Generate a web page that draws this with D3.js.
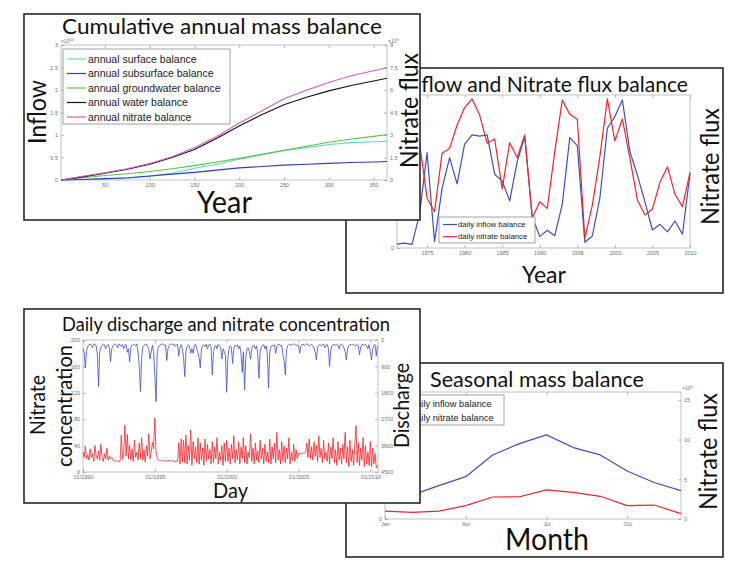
<!DOCTYPE html>
<html>
<head>
<meta charset="utf-8">
<script src="https://cdn.jsdelivr.net/npm/d3@7"></script>
<style>
body { margin: 0; background: #fff; }
.big { font-family: Lato, "Open Sans", sans-serif; fill: #111; }
.ax text { font-family: "Liberation Sans", Arial, sans-serif; font-size: 5.5px; fill: #707070; }
.ax line { stroke: #8c8c8c; stroke-width: 0.6; }
.leg { font-family: "Liberation Sans", Arial, sans-serif; fill: #222; }
</style>
</head>
<body>
<svg id="fig" width="731" height="565"></svg>
<script>
// ---- panel A: cumulative annual mass balance (x = day of year) ----
const a_days = [1, 25, 50, 75, 100, 125, 150, 175, 200, 225, 250, 275, 300, 325, 350, 365];
const a_surface     = [0, 0.01, 0.02, 0.04, 0.08, 0.15, 0.26, 0.35, 0.46, 0.56, 0.65, 0.72, 0.79, 0.83, 0.85, 0.86];
const a_subsurface  = [0, 0.01, 0.03, 0.05, 0.09, 0.13, 0.17, 0.22, 0.27, 0.30, 0.33, 0.35, 0.37, 0.39, 0.40, 0.41];
const a_groundwater = [0, 0.05, 0.10, 0.14, 0.19, 0.25, 0.32, 0.40, 0.48, 0.57, 0.66, 0.75, 0.84, 0.91, 0.97, 1.01];
const a_water       = [0, 0.07, 0.15, 0.24, 0.35, 0.50, 0.68, 0.93, 1.20, 1.45, 1.67, 1.84, 1.98, 2.10, 2.20, 2.26];
const a_nitrate     = [0, 0.25, 0.48, 0.75, 1.10, 1.55, 2.15, 2.90, 3.80, 4.60, 5.42, 5.98, 6.50, 6.95, 7.28, 7.48]; // right axis
const a_names = ["annual surface balance", "annual subsurface balance", "annual groundwater balance", "annual water balance", "annual nitrate balance"];
const a_colors = ["#5fd2e6", "#2d3fbf", "#5ec240", "#111111", "#d35ccb"];
const a_x_ticks = [50, 100, 150, 200, 250, 300, 350];
const a_left_ticks = [0, 0.5, 1, 1.5, 2, 2.5, 3];
const a_right_ticks = [0, 1.5, 3, 4.5, 6, 7.5, 9];

// ---- panel B: yearly inflow and nitrate flux ----
const b_years = d3.range(1971, 2011);
const b_inflow = [0.13, 0.16, 0.12, 1.13, 3.18, 0.21, 1.99, 3.01, 2.14, 3.46,
                  3.77, 3.73, 3.77, 2.46, 2.23, 1.57, 2.88, 3.71, 1.04, 0.38,
                  0.59, 0.41, 1.46, 3.68, 3.41, 0.19, 0.40, 1.66, 3.99, 4.38,
                  4.93, 3.21, 2.43, 1.54, 0.60, 0.79, 0.54, 0.90, 0.46, 2.49];
const b_nitrate = [2.0, 2.3, 2.8, 3.5, 1.66, 1.21, 3.16, 3.32, 4.10, 4.68,
                   4.97, 4.43, 3.49, 3.63, 1.97, 3.51, 3.01, 3.77, 0.99, 1.54,
                   1.32, 3.21, 4.93, 4.46, 4.29, 0.32, 1.43, 3.04, 4.97, 3.57,
                   4.30, 2.99, 1.60, 1.10, 1.30, 2.19, 2.71, 1.79, 1.38, 2.52];
const b_x_ticks = [1975, 1980, 1985, 1990, 1995, 2000, 2005, 2010];

// ---- panel C: discharge and nitrate concentration, one value per month from 01/1990 ----
const c_start = new Date(1990, 0, 1);
const c_end = new Date(2010, 6, 15);
const c_nitrate = [
  30,22,38,20,26,18,35,22,28,16,40,24,
  20,32,18,42,22,16,28,20,36,18,24,20,
  22,18,17,17,16,17,16,16,56,20,30,71,
  24,57,20,40,18,35,16,48,22,30,18,44,
  20,52,18,34,15,40,24,58,20,30,45,35,
  82,30,22,18,17,18,17,16,18,17,16,18,
  17,16,18,17,16,15,17,16,44,12,50,15,
  48,14,56,12,40,18,64,10,46,20,38,14,
  52,12,44,18,36,10,50,16,42,20,34,12,
  46,14,38,20,52,12,30,18,40,10,44,16,
  48,16,36,12,42,20,55,14,34,18,46,12,
  38,20,52,14,40,12,30,22,58,16,36,12,
  44,18,32,14,48,20,36,12,42,16,30,14,
  50,12,38,20,44,14,60,18,34,12,46,16,
  40,14,36,20,52,12,30,18,42,16,34,20,
  28,28,27,28,29,28,30,44,22,50,20,38,
  18,46,24,40,16,55,22,36,14,48,20,30,
  16,44,12,38,20,52,14,34,10,46,18,36,
  12,42,20,60,14,38,8,48,16,34,10,40,
  70,14,44,10,36,18,52,8,40,12,30,10,
  46,8,36,12,28,6,10];
const c_discharge = [
  300,420,950,380,220,160,140,180,260,150,130,200,
  500,1590,420,250,180,140,160,300,200,150,260,740,
  300,200,150,130,180,260,140,160,220,150,300,180,
  150,420,300,740,260,180,140,160,200,130,420,900,
  1760,600,260,180,150,140,220,300,650,420,180,400,
  1200,2100,500,250,180,160,140,130,200,160,700,300,
  180,150,140,160,130,220,170,150,550,260,160,300,
  600,1250,400,220,160,200,450,300,450,180,140,300,
  420,600,950,300,200,160,220,150,300,180,140,240,
  1190,400,260,180,300,150,200,260,650,300,400,500,
  1785,600,300,200,260,800,300,180,220,160,300,200,
  500,1100,400,1700,600,300,260,400,650,280,200,180,
  300,200,500,1300,400,250,180,160,300,200,500,1640,
  400,250,180,200,160,450,220,160,140,200,180,500,
  700,1190,350,200,160,140,180,160,130,150,200,160,
  180,450,200,160,140,200,150,130,160,220,180,150,
  200,300,400,680,250,180,160,200,150,140,260,180,
  150,300,910,350,200,160,140,200,150,180,300,160,
  140,180,260,400,680,300,200,150,180,140,160,200,
  180,150,200,500,250,160,140,180,150,200,300,160,
  400,680,300,180,150,550,200];
const c_left_ticks = [0, 40, 80, 120, 160, 200];
const c_right_ticks = [0, 900, 1800, 2700, 3600, 4500];
const c_x_ticks = [1990, 1995, 2000, 2005, 2010];

// ---- panel D: seasonal mass balance ----
const d_months = [1, 2, 3, 4, 5, 6, 7, 8, 9, 10, 11, 12];
const d_inflow = [2.2, 3.0, 4.2, 5.33, 8.07, 9.5, 10.6, 9.0, 8.07, 6.05, 4.6, 3.57];
const d_nitrate = [1.0, 0.84, 1.0, 1.68, 2.77, 2.8, 3.66, 3.36, 2.86, 1.68, 1.76, 0.67];
const d_x_ticks = [1, 4, 7, 10];
const d_x_labels = {1: "Jan", 4: "Apr", 7: "Jul", 10: "Oct"};
const d_y_ticks = [0, 5, 10, 15];

const BLUE = "#3d4fbf";
const RED = "#f0262b";

const svg = d3.select("#fig");

function panel_box(x0, y0, x1, y1) {
  svg.append("rect").attr("x", x0).attr("y", y0).attr("width", x1 - x0).attr("height", y1 - y0)
    .attr("fill", "#fff").attr("stroke", "#262626").attr("stroke-width", 1.6);
}

// matlab style box with inward ticks on every side
function frame_axes(x_scale, y_left, y_right, o) {
  const [x0, x1] = x_scale.range();
  const [yb, yt] = y_left.range();
  svg.append("rect").attr("x", x0).attr("y", yt).attr("width", x1 - x0).attr("height", yb - yt)
    .attr("fill", "none").attr("stroke", "#b4b4b4").attr("stroke-width", 0.8);
  svg.append("g").attr("class", "ax").attr("transform", `translate(0,${yb})`)
    .call(d3.axisBottom(x_scale).tickValues(o.xt).tickFormat(o.xf).tickSizeInner(-3).tickSizeOuter(0).tickPadding(3));
  svg.append("g").attr("class", "ax").attr("transform", `translate(0,${yt})`)
    .call(d3.axisTop(x_scale).tickValues(o.xt).tickFormat("").tickSizeInner(-3).tickSizeOuter(0));
  svg.append("g").attr("class", "ax").attr("transform", `translate(${x0},0)`)
    .call(d3.axisLeft(y_left).tickValues(o.lt).tickFormat(o.lf).tickSizeInner(-3).tickSizeOuter(0).tickPadding(3));
  svg.append("g").attr("class", "ax").attr("transform", `translate(${x1},0)`)
    .call(d3.axisRight(y_right).tickValues(o.rt).tickFormat(o.rf).tickSizeInner(-3).tickSizeOuter(0).tickPadding(3));
  svg.selectAll(".ax .domain").remove();
}

function big_text(txt, x, y, size, len, rotate) {
  const t = svg.append("text").attr("class", "big").attr("font-size", size)
    .attr("textLength", len).attr("lengthAdjust", "spacingAndGlyphs").text(txt);
  if (rotate) t.attr("transform", `translate(${x},${y}) rotate(-90)`);
  else t.attr("x", x).attr("y", y);
}

function exponent(x, y, p) {
  const t = svg.append("text").attr("x", x).attr("y", y).attr("font-family", "Liberation Sans, Arial")
    .attr("font-size", 5).attr("fill", "#707070").text("\u00d710");
  t.append("tspan").attr("dy", -2).attr("font-size", 4).text(p);
}

function draw_line(xs, ys, x_scale, y_scale, color, width) {
  const line = d3.line().x((d, i) => x_scale(xs[i])).y(d => y_scale(d));
  svg.append("path").datum(ys).attr("d", line).attr("fill", "none")
    .attr("stroke", color).attr("stroke-width", width).attr("stroke-linejoin", "round");
}

function legend(x0, y0, x1, y1, rows, size, line_x, text_x) {
  svg.append("rect").attr("x", x0).attr("y", y0).attr("width", x1 - x0).attr("height", y1 - y0)
    .attr("fill", "#fff").attr("stroke", "#8a8a8a").attr("stroke-width", 0.8);
  rows.forEach(r => {
    svg.append("line").attr("x1", line_x[0]).attr("x2", line_x[1]).attr("y1", r.y).attr("y2", r.y)
      .attr("stroke", r.color).attr("stroke-width", 1.2);
    svg.append("text").attr("class", "leg").attr("x", text_x).attr("y", r.y).attr("dy", "0.35em")
      .attr("font-size", size).text(r.name);
  });
}

// ================= B (behind A) =================
panel_box(346, 68, 723, 293);
const bx = d3.scaleLinear().domain([1971, 2010]).range([397, 690]);
const by = d3.scaleLinear().domain([0, 5.1]).range([248, 95]);
frame_axes(bx, by, by, {xt: b_x_ticks, xf: d3.format("d"), lt: [0, 1, 2, 3, 4, 5], lf: d3.format("d"), rt: [], rf: ""});
draw_line(b_years, b_inflow, bx, by, BLUE, 1.2);
draw_line(b_years, b_nitrate, bx, by, RED, 1.2);
legend(439, 217, 535, 243, [{name: "daily inflow balance", color: BLUE, y: 224.5},
                            {name: "daily nitrate balance", color: RED, y: 236.7}], 7.8, [443, 457], 458);
big_text("Inflow and Nitrate flux balance", 404, 91.7, 21, 284, false);
big_text("Year", 522, 283, 24, 44, false);
big_text("Nitrate flux", 719, 225, 25, 117, true);

// ================= A =================
panel_box(24, 14, 420, 220);
const ax = d3.scaleLinear().domain([1, 365]).range([61, 387]);
const ay = d3.scaleLinear().domain([0, 3]).range([180, 45]);
const ay2 = d3.scaleLinear().domain([0, 9]).range([180, 45]);
frame_axes(ax, ay, ay2, {xt: a_x_ticks, xf: d3.format("d"), lt: a_left_ticks, lf: d => d, rt: a_right_ticks, rf: d => d});
exponent(61, 42.5, "10");
exponent(388, 42.5, "9");
[a_surface, a_subsurface, a_groundwater, a_water].forEach((s, i) => draw_line(a_days, s, ax, ay, a_colors[i], 1.1));
draw_line(a_days, a_nitrate, ax, ay2, a_colors[4], 1.1);
legend(63, 49, 230, 124, a_names.map((n, i) => ({name: n, color: a_colors[i], y: 59 + i * 14.5})), 10.5, [67, 86], 88);
big_text("Cumulative annual mass balance", 62, 34.3, 21, 320, false);
big_text("Year", 197, 213, 31, 55, false);
big_text("Inflow", 45.5, 144, 25, 64, true);
big_text("Nitrate flux", 418, 168, 25, 115, true);

// ================= D (behind C) =================
panel_box(346, 363, 723, 557);
const dx = d3.scaleLinear().domain([1, 12]).range([385, 681]);
const dy = d3.scaleLinear().domain([0, 16]).range([519, 392]);
frame_axes(dx, dy, dy, {xt: d_x_ticks, xf: d => d_x_labels[d], lt: d_y_ticks, lf: d => d, rt: d_y_ticks, rf: d => d});
exponent(682, 390, "6");
draw_line(d_months, d_inflow, dx, dy, BLUE, 1.2);
draw_line(d_months, d_nitrate, dx, dy, RED, 1.2);
legend(388, 395, 504, 425, [{name: "daily inflow balance", color: BLUE, y: 404},
                            {name: "daily nitrate balance", color: RED, y: 418}], 9.3, [392, 408], 411);
big_text("Seasonal mass balance", 430, 386.7, 21, 214, false);
big_text("Month", 505, 550, 30, 84, false);
big_text("Nitrate flux", 717, 510, 25, 117, true);

// ================= C =================
panel_box(24, 309, 420, 503);
const c_dates = c_nitrate.map((d, i) => new Date(1990, i, 1));
const cx = d3.scaleTime().domain([c_start, c_end]).range([83, 378]);
const cy = d3.scaleLinear().domain([0, 200]).range([472, 340]);
const cy2 = d3.scaleLinear().domain([0, 4500]).range([340, 472]);
const fmt_month = d3.timeFormat("%m/%Y");
frame_axes(cx, cy, cy2, {xt: c_x_ticks.map(y => new Date(y, 0, 1)), xf: fmt_month,
  lt: c_left_ticks, lf: d => d, rt: c_right_ticks, rf: d => d});
// right axis runs downward: 0 at the top
draw_line(c_dates, c_discharge, cx, cy2, BLUE, 0.8);
draw_line(c_dates, c_nitrate, cx, cy, RED, 0.8);
big_text("Daily discharge and nitrate concentration", 62, 330.7, 19.5, 328, false);
big_text("Day", 213, 498, 21, 35, false);
big_text("Nitrate", 45, 435, 21, 60, true);
big_text("concentration", 71.5, 467, 21, 122, true);
big_text("Discharge", 409, 448, 21, 85, true);
</script>
</body>
</html>
